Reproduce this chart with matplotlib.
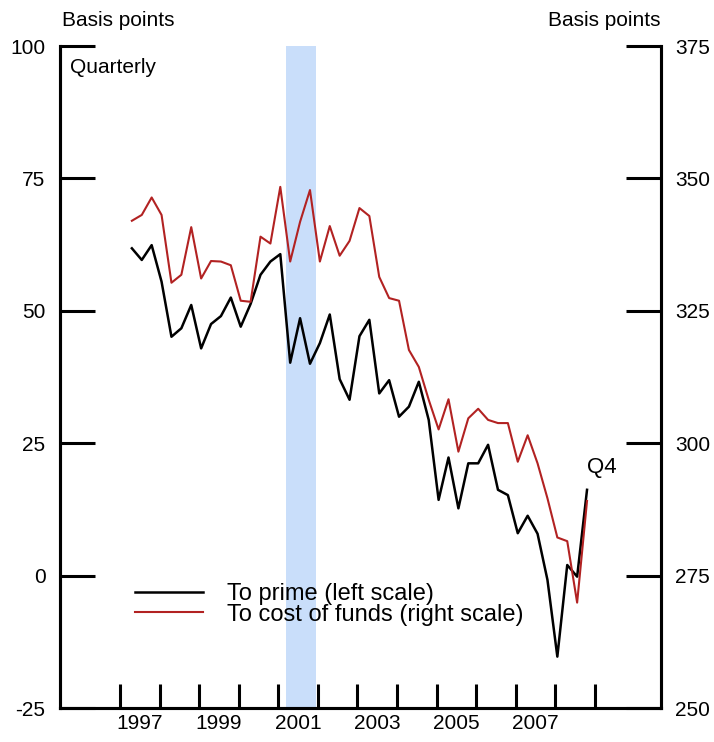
import matplotlib
matplotlib.use('Agg')
import matplotlib.pyplot as plt
import numpy as np

plt.rcParams['font.family'] = ['Liberation Sans', 'DejaVu Sans']

# --- Data (quarterly, 1997 Q2 to 2008 Q4) ---
years = np.repeat(np.arange(1997, 2009), 4)[1:]
qtrs = np.tile([1, 2, 3, 4], 12)[1:]

# spread to prime, basis points (left scale)
to_prime = [61.8, 59.6, 62.4, 55.5, 45.1, 46.7, 51.1, 42.9, 47.5, 49.0,
            52.5, 47.0, 51.3, 56.8, 59.3, 60.7, 40.2, 48.6, 40.0, 43.9,
            49.3, 37.1, 33.2, 45.2, 48.3, 34.4, 36.9, 30.0, 31.9, 36.6,
            29.4, 14.3, 22.3, 12.7, 21.2, 21.2, 24.7, 16.2, 15.2, 8.0,
            11.3, 7.9, -0.8, -15.3, 2.0, -0.2, 16.2]

# spread to cost of funds, basis points (right scale)
to_cof = [342.0, 343.1, 346.4, 343.1, 330.3, 331.8, 340.8, 331.1, 334.4, 334.3,
          333.6, 326.9, 326.7, 339.0, 337.7, 348.4, 334.3, 341.8, 347.8, 334.3,
          341.0, 335.4, 338.2, 344.4, 342.9, 331.4, 327.4, 326.9, 317.6, 314.4,
          308.2, 302.6, 308.3, 298.4, 304.7, 306.5, 304.4, 303.8, 303.8, 296.5,
          301.5, 296.2, 289.6, 282.2, 281.5, 269.9, 289.1]

recession = (2001.2, 2001.95)
left_ticks = [-25, 0, 25, 50, 75, 100]
right_ticks = [250, 275, 300, 325, 350, 375]
year_labels = ['1997', '1999', '2001', '2003', '2005', '2007']

t = years + (qtrs - 1) / 4 + 0.05

# --- Figure ---
fig = plt.figure(figsize=(7.14, 7.42), dpi=100)
ax = fig.add_axes([60 / 714, 34 / 742, 601 / 714, 662 / 742])
ax2 = ax.twinx()

ax.axvspan(*recession, color='#c9defa', lw=0, zorder=0)
l1, = ax.plot(t, to_prime, color='black', lw=1.8, zorder=3, label='To prime (left scale)')
l2, = ax2.plot(t, to_cof, color='#b22222', lw=1.5, zorder=3, label='To cost of funds (right scale)')

ax.set_xlim(1995.484, 2010.669)
ax.set_ylim(-25, 100)
ax2.set_ylim(250, 375)

# spines
for a in (ax, ax2):
    a.spines['top'].set_visible(False)
    for s in ('left', 'right', 'bottom'):
        a.spines[s].set_linewidth(2.2)

ax.set_yticks(left_ticks)
ax.set_yticklabels([str(v) for v in left_ticks])
ax2.set_yticks(right_ticks)
ax2.set_yticklabels([str(v) for v in right_ticks])

ax.tick_params(axis='y', direction='in', length=25, width=2.2, pad=10.5, labelsize=15)
ax2.tick_params(axis='y', direction='in', length=25, width=2.2, pad=10, labelsize=15)

ax.set_xticks(np.arange(1997, 2010))
ax.set_xticklabels([])
ax.set_xticks([int(y) + 0.5 for y in year_labels], minor=True)
ax.set_xticklabels(year_labels, minor=True)
ax.tick_params(axis='x', which='major', direction='in', length=17, width=2.2)
ax.tick_params(axis='x', which='minor', length=0, pad=4, labelsize=15)

# texts
fig.text(62 / 714, 1 - 20 / 742, 'Basis points', ha='left', va='center', fontsize=15)
fig.text(660 / 714, 1 - 20 / 742, 'Basis points', ha='right', va='center', fontsize=15)
ax.text(0.0166, 0.968, 'Quarterly', transform=ax.transAxes, ha='left', va='center', fontsize=15)
ax.text(t[-1] + 0.0, to_prime[-1] + 4.2, 'Q4', ha='left', va='center', fontsize=16)

ax2.legend(handles=[l1, l2], loc='upper left', bbox_to_anchor=(0.124, 0.189),
           frameon=False, fontsize=17, borderpad=0, borderaxespad=0,
           labelspacing=-0.05, handlelength=2.9, handletextpad=1.0)

fig.savefig('out.png', dpi=100, facecolor='white')
